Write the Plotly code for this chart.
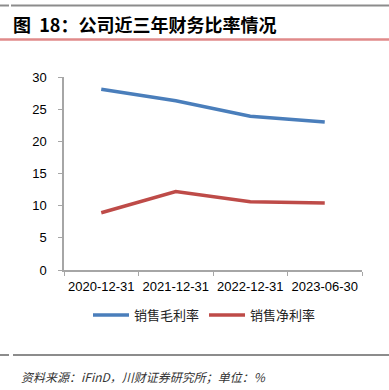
import plotly.graph_objects as go

categories = ["2020-12-31", "2021-12-31", "2022-12-31", "2023-06-30"]
gross_margin = [28.1, 26.3, 23.9, 23.0]
net_margin = [8.9, 12.2, 10.6, 10.4]
series_names = ["销售毛利率", "销售净利率"]
title_text = "图&nbsp;&nbsp;18：公司近三年财务比率情况"
source_text = "资料来源：iFinD，川财证券研究所；单位：%"

W, H = 389, 390
ML, MR, MT, MB = 64, 27, 77, 120

fig = go.Figure()
fig.add_trace(go.Scatter(x=categories, y=gross_margin, mode="lines", name=series_names[0],
                         line=dict(color="#4a7ebb", width=3.5)))
fig.add_trace(go.Scatter(x=categories, y=net_margin, mode="lines", name=series_names[1],
                         line=dict(color="#be4b48", width=3.5)))

def px_x(x):
    return (x - ML) / (W - ML - MR)

def px_y(y):
    return (H - MB - y) / (H - MT - MB)

shapes = [
    dict(type="line", xref="paper", yref="paper", x0=px_x(0), x1=px_x(9), y0=px_y(5.5), y1=px_y(5.5),
         line=dict(color="#8c8c8c", width=2)),
    dict(type="line", xref="paper", yref="paper", x0=px_x(11), x1=px_x(389), y0=px_y(5.5), y1=px_y(5.5),
         line=dict(color="#8c8c8c", width=2)),
    dict(type="line", xref="paper", yref="paper", x0=px_x(0), x1=px_x(389), y0=px_y(39.5), y1=px_y(39.5),
         line=dict(color="#e08a8a", width=2.5)),
    dict(type="line", xref="paper", yref="paper", x0=px_x(0), x1=px_x(9), y0=px_y(355), y1=px_y(355),
         line=dict(color="#8c8c8c", width=2)),
    dict(type="line", xref="paper", yref="paper", x0=px_x(13), x1=px_x(389), y0=px_y(355), y1=px_y(355),
         line=dict(color="#8c8c8c", width=2)),
]

annotations = [
    dict(text="<b>" + title_text + "</b>", xref="paper", yref="paper", x=px_x(11), y=px_y(24),
         xanchor="left", yanchor="middle", showarrow=False,
         font=dict(family="Noto Sans CJK SC", size=18, color="#000000")),
    dict(text="<i>" + source_text + "</i>", xref="paper", yref="paper", x=px_x(19), y=px_y(376),
         xanchor="left", yanchor="middle", showarrow=False,
         font=dict(family="Noto Sans CJK SC", size=12, color="#333333")),
]

fig.update_layout(
    width=W, height=H,
    margin=dict(l=ML, r=MR, t=MT, b=MB),
    paper_bgcolor="white", plot_bgcolor="white",
    showlegend=True,
    legend=dict(orientation="h", x=px_x(88), xanchor="left", y=px_y(315), yanchor="middle",
                font=dict(family="Noto Sans CJK SC", size=13, color="#222222"),
                itemwidth=36, tracegroupgap=0),
    shapes=shapes,
    annotations=annotations,
    font=dict(family="Liberation Sans, Arial", size=13, color="#000000"),
)
fig.update_xaxes(type="category", range=[-0.5, 3.5], showgrid=False, showline=True,
                 linecolor="#a6a6a6", linewidth=1.5, ticks="outside", tickson="boundaries",
                 ticklen=4, tickcolor="#a6a6a6", tickfont=dict(size=13, color="#000000"),
                 tickangle=0, ticklabelstandoff=4, fixedrange=True)
fig.update_yaxes(range=[0, 30], dtick=5, showgrid=False, showline=True, zeroline=False,
                 linecolor="#a6a6a6", linewidth=1.5, ticks="outside", ticklen=4,
                 tickcolor="#a6a6a6", tickfont=dict(size=13, color="#000000"),
                 ticklabelstandoff=9, fixedrange=True)

fig.write_html("out.html", config={"displayModeBar": False},
               post_script="document.body.style.margin='0';document.body.style.overflow='hidden';")
